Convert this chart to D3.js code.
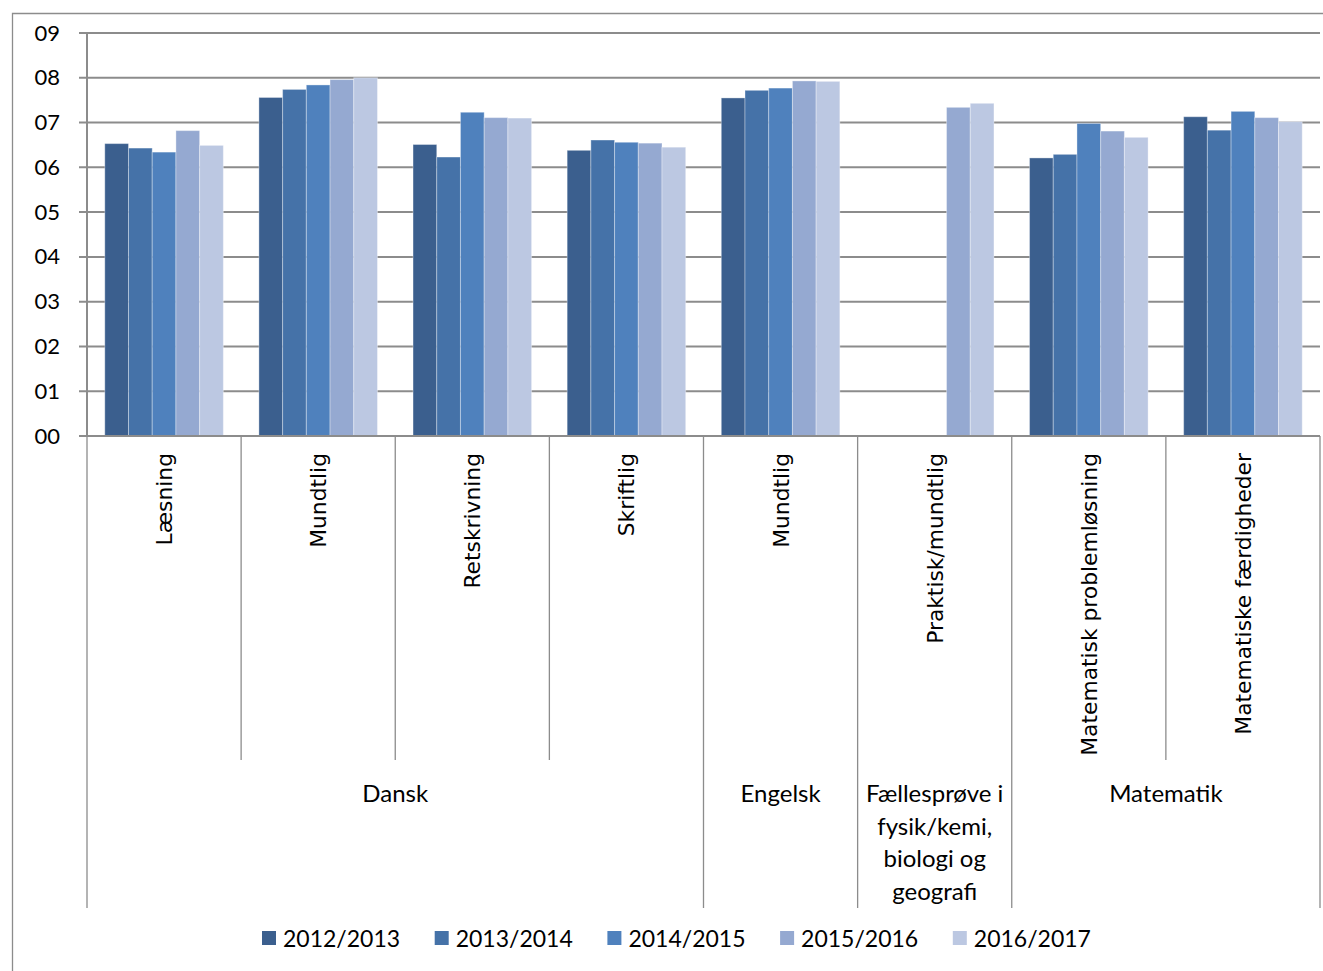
<!DOCTYPE html>
<html>
<head>
<meta charset="utf-8">
<script src="https://cdn.jsdelivr.net/npm/d3@7"></script>
<style>
  html, body { margin: 0; padding: 0; background: #fff; }
  svg { display: block; }
</style>
</head>
<body>
<svg id="chart" width="1323" height="971"></svg>
<script>
(function() {
  'use strict';

  // data
  var categories = ['Læsning', 'Mundtlig', 'Retskrivning', 'Skriftlig', 'Mundtlig',
    'Praktisk/mundtlig', 'Matematisk problemløsning', 'Matematiske færdigheder'];
  var groupNames = ['Dansk', 'Engelsk', 'Fællesprøve i|fysik/kemi,|biologi og|geografi', 'Matematik'];
  var groupSpans = [4, 1, 1, 2];
  var seriesNames = ['2012/2013', '2013/2014', '2014/2015', '2015/2016', '2016/2017'];
  var values2012 = [6.53, 7.56, 6.51, 6.38, 7.55, null, 6.21, 7.13];
  var values2013 = [6.43, 7.74, 6.23, 6.61, 7.72, null, 6.29, 6.83];
  var values2014 = [6.34, 7.84, 7.23, 6.56, 7.77, null, 6.98, 7.25];
  var values2015 = [6.82, 7.96, 7.11, 6.54, 7.93, 7.34, 6.81, 7.11];
  var values2016 = [6.49, 8.00, 7.10, 6.45, 7.92, 7.43, 6.67, 7.02];
  var yTicks = [0, 1, 2, 3, 4, 5, 6, 7, 8, 9];

  var series = [values2012, values2013, values2014, values2015, values2016];
  var colors = ['#3b5f8e', '#4572a8', '#4f81bd', '#95a9d1', '#bcc8e2'];
  var gridColor = '#8c8c8c';

  var svg = d3.select('#chart');
  var left = 87, right = 1320, top = 33, bottom = 436;

  // outer chart border
  svg.append('path')
    .attr('d', 'M12.5,975V13.5H1330')
    .attr('fill', 'none')
    .attr('stroke', gridColor)
    .attr('stroke-width', 1.3);

  var y = d3.scaleLinear().domain([0, 9]).range([bottom, top]);
  var x = d3.scaleBand().domain(d3.range(categories.length)).range([left, right]).padding(0);
  var xs = d3.scaleBand().domain(d3.range(series.length))
    .range([0, x.bandwidth()]).paddingInner(0).paddingOuter(0.75);

  // gridlines
  svg.append('g').selectAll('line')
    .data(yTicks)
    .join('line')
    .attr('x1', left - 8).attr('x2', right)
    .attr('y1', function(d) { return y(d); })
    .attr('y2', function(d) { return y(d); })
    .attr('stroke', gridColor)
    .attr('stroke-width', 2);

  // y axis
  svg.append('line')
    .attr('x1', left).attr('x2', left)
    .attr('y1', top).attr('y2', bottom)
    .attr('stroke', gridColor).attr('stroke-width', 2);

  svg.append('g').selectAll('text')
    .data(yTicks)
    .join('text')
    .attr('x', 60)
    .attr('y', function(d) { return y(d) + 7.5; })
    .attr('text-anchor', 'end')
    .attr('font-family', 'Lato, sans-serif')
    .attr('font-size', 22)
    .attr('fill', '#000')
    .text(d3.format('02d'));

  // bars
  var barsG = svg.append('g');
  series.forEach(function(vals, si) {
    barsG.append('g').selectAll('rect')
      .data(vals.map(function(v, ci) { return { v: v, ci: ci }; }).filter(function(d) { return d.v != null; }))
      .join('rect')
      .attr('x', function(d) { return x(d.ci) + xs(si); })
      .attr('width', xs.bandwidth())
      .attr('y', function(d) { return y(d.v); })
      .attr('height', function(d) { return y(0) - y(d.v); })
      .attr('fill', colors[si])
      .attr('stroke', '#ffffff')
      .attr('stroke-opacity', 0.35)
      .attr('stroke-width', 1);
  });

  // baseline
  svg.append('line')
    .attr('x1', left).attr('x2', right)
    .attr('y1', bottom).attr('y2', bottom)
    .attr('stroke', gridColor).attr('stroke-width', 2);

  // category separators
  var groupStarts = [];
  var acc = 0;
  groupSpans.forEach(function(s) { groupStarts.push(acc); acc += s; });

  var sepG = svg.append('g').attr('stroke', gridColor).attr('stroke-width', 1.3);
  d3.range(categories.length + 1).forEach(function(i) {
    var xx = i < categories.length ? x(i) : right;
    var isGroupEdge = groupStarts.indexOf(i) >= 0 || i === categories.length;
    sepG.append('line')
      .attr('x1', xx).attr('x2', xx)
      .attr('y1', bottom).attr('y2', isGroupEdge ? 908 : 760);
  });

  // rotated category labels
  svg.append('g').selectAll('text')
    .data(categories)
    .join('text')
    .attr('transform', function(d, i) {
      return 'translate(' + (x(i) + x.bandwidth() / 2 + 8) + ',453) rotate(-90)';
    })
    .attr('text-anchor', 'end')
    .attr('font-family', '"DejaVu Sans", sans-serif')
    .attr('font-size', 21.8)
    .attr('fill', '#000')
    .text(function(d) { return d; });

  // group labels
  var glG = svg.append('g');
  groupNames.forEach(function(name, gi) {
    var x0 = x(groupStarts[gi]);
    var x1 = groupStarts[gi] + groupSpans[gi] < categories.length ? x(groupStarts[gi] + groupSpans[gi]) : right;
    var t = glG.append('text')
      .attr('text-anchor', 'middle')
      .attr('font-family', 'Lato, sans-serif')
      .attr('font-size', 24)
      .attr('fill', '#000');
    name.split('|').forEach(function(line, li) {
      t.append('tspan')
        .attr('x', (x0 + x1) / 2)
        .attr('y', 802 + li * 32.5)
        .text(line);
    });
  });

  // legend
  var legend = svg.append('g');
  seriesNames.forEach(function(name, si) {
    var lx = 262 + si * 172.7;
    legend.append('rect')
      .attr('x', lx).attr('y', 931)
      .attr('width', 14).attr('height', 14)
      .attr('fill', colors[si]);
    legend.append('text')
      .attr('x', lx + 21).attr('y', 947)
      .attr('font-family', 'Lato, sans-serif')
      .attr('font-size', 23)
      .attr('fill', '#000')
      .text(name);
  });
})();
</script>
</body>
</html>
